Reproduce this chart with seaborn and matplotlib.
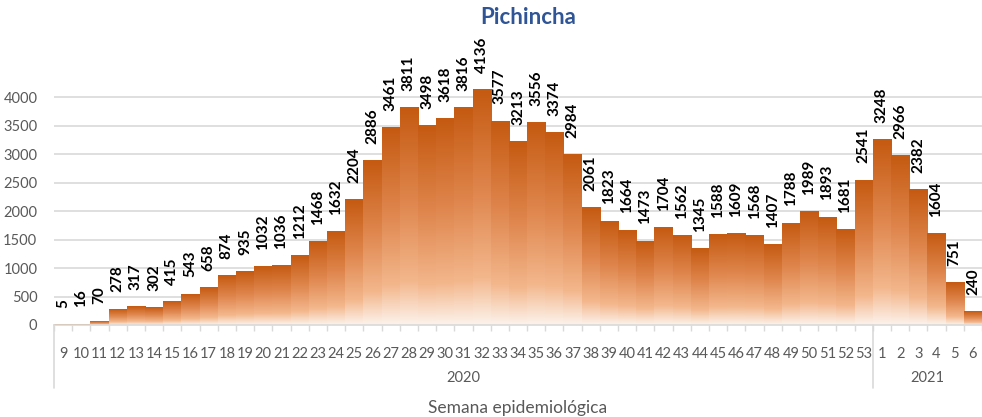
import numpy as np
import pandas as pd
import seaborn as sns
import matplotlib.pyplot as plt
from matplotlib.colors import LinearSegmentedColormap
from matplotlib.transforms import blended_transform_factory

# casos por semana epidemiologica
weeks_2020 = list(range(9, 54))
cases_2020 = [5, 16, 70, 278, 317, 302, 415, 543, 658, 874,
              935, 1032, 1036, 1212, 1468, 1632, 2204, 2886, 3461, 3811,
              3498, 3618, 3816, 4136, 3577, 3213, 3556, 3374, 2984, 2061,
              1823, 1664, 1473, 1704, 1562, 1345, 1588, 1609, 1568, 1407,
              1788, 1989, 1893, 1681, 2541]
weeks_2021 = list(range(1, 7))
cases_2021 = [3248, 2966, 2382, 1604, 751, 240]
years = ["2020", "2021"]

df = pd.DataFrame({
    "year": [years[0]] * len(weeks_2020) + [years[1]] * len(weeks_2021),
    "week": weeks_2020 + weeks_2021,
    "cases": cases_2020 + cases_2021,
})
df["key"] = df["year"] + "-" + df["week"].astype(str)

sns.set_theme(style="white")
plt.rcParams["font.family"] = ["Lato", "DejaVu Sans"]

grey = "#595959"
line = "#D9D9D9"

fig = plt.figure(figsize=(9.82, 4.17), dpi=100)
ax = fig.add_axes([54 / 982, 92 / 417, 928 / 982, 285 / 417])

sns.barplot(data=df, x="key", y="cases", order=df["key"], color="#C55A11",
            width=1.0, saturation=1, errorbar=None, ax=ax)

# degradado por barra (oscuro arriba, blanco abajo)
fade = LinearSegmentedColormap.from_list(
    "fade", [(0, "#FCF3EC"), (0.2, "#F3B78C"), (0.55, "#E08850"), (1, "#C55A11")])
grad = np.linspace(0, 1, 256).reshape(-1, 1)
for p in ax.patches:
    x0, w, h = p.get_x(), p.get_width(), p.get_height()
    ax.imshow(grad, extent=[x0, x0 + w, 0, h], aspect="auto", cmap=fade,
              origin="lower", zorder=2)
    p.set_facecolor("none")
    p.set_edgecolor("none")

ax.bar_label(ax.containers[0], fmt="{:.0f}", rotation=90, padding=12,
             fontsize=11, fontweight="bold", color="black")

ax.set_xlim(-0.5, len(df) - 0.5)
ax.set_ylim(0, 5000)
ax.set_yticks(range(0, 4001, 500))
ax.yaxis.grid(True, color=line, lw=1.2)
ax.set_axisbelow(True)

for s in ["left", "right", "top"]:
    ax.spines[s].set_visible(False)
ax.spines["bottom"].set_color(line)
ax.spines["bottom"].set_linewidth(1.2)

ax.set_xticks(range(len(df)))
ax.set_xticklabels(df["week"].astype(str))
ax.set_xticks(np.arange(-0.5, len(df), 1), minor=True)
ax.tick_params(axis="x", which="major", length=0, pad=16, labelsize=10.5, labelcolor=grey)
ax.tick_params(axis="x", which="minor", length=4, color=line, width=1, direction="out", bottom=True)
ax.tick_params(axis="y", length=0, pad=12, labelsize=10.5, labelcolor=grey)
ax.set_xlabel("")
ax.set_ylabel("")

# eje de dos niveles: años
trans = blended_transform_factory(ax.transData, ax.transAxes)
n20 = len(weeks_2020)
for xb in [-0.5, n20 - 0.5]:
    ax.plot([xb, xb], [0, -0.221], transform=trans, clip_on=False, color=line, lw=1.2)
ax.text((n20 - 1) / 2, -0.186, years[0], transform=trans, ha="center", va="center",
        fontsize=10.5, color=grey)
ax.text(n20 + (len(weeks_2021) - 1) / 2, -0.186, years[1], transform=trans,
        ha="center", va="center", fontsize=10.5, color=grey)

ax.text(0.5, -0.291, "Semana epidemiológica", transform=ax.transAxes,
        ha="center", va="center", fontsize=12.5, color=grey)
fig.text(528 / 982, 1 - 18 / 417, "Pichincha", ha="center", va="center",
         fontsize=16, fontweight="bold", color="#2F5597")

fig.savefig("out.png", dpi=100)
